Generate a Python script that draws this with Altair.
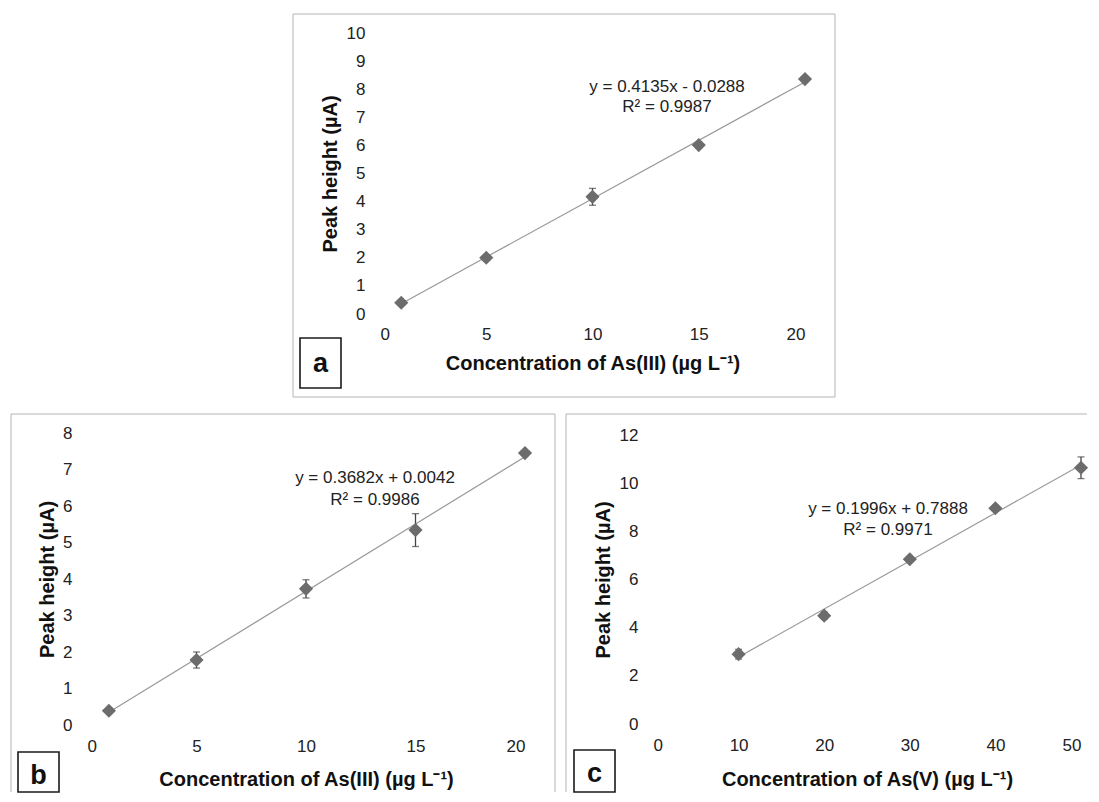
import altair as alt
import pandas as pd

FONT = "Liberation Sans"

# ---------------- data ----------------
a_x = [1, 5, 10, 15, 20]
a_y = [0.40, 2.00, 4.17, 6.01, 8.36]
a_err = [0.04, 0.10, 0.30, 0.10, 0.06]

b_x = [1, 5, 10, 15, 20]
b_y = [0.39, 1.78, 3.73, 5.34, 7.45]
b_err = [0.04, 0.22, 0.25, 0.45, 0.05]

c_x = [10, 20, 30, 40, 50]
c_y = [2.90, 4.50, 6.84, 8.96, 10.64]
c_err = [0.20, 0.15, 0.10, 0.12, 0.45]

a_xticks = [0, 5, 10, 15, 20]
a_yticks = [0, 1, 2, 3, 4, 5, 6, 7, 8, 9, 10]
b_xticks = [0, 5, 10, 15, 20]
b_yticks = [0, 1, 2, 3, 4, 5, 6, 7, 8]
c_xticks = [0, 10, 20, 30, 40, 50]
c_yticks = [0, 2, 4, 6, 8, 10, 12]

a_xtitle = "Concentration of As(III) (µg L⁻¹)"
b_xtitle = "Concentration of As(III) (µg L⁻¹)"
c_xtitle = "Concentration of As(V) (µg L⁻¹)"
ytitle = "Peak height (µA)"

a_eq = ["y = 0.4135x - 0.0288", "R² = 0.9987"]
b_eq = ["y = 0.3682x + 0.0042", "R² = 0.9986"]
c_eq = ["y = 0.1996x + 0.7888", "R² = 0.9971"]

FRAME = "#b4b4b4"


def vrule(one, x, y0, y1):
    return alt.Chart(one).mark_rule(color=FRAME, strokeWidth=1).encode(
        x=alt.value(x), y=alt.value(y0), y2=alt.value(y1))


def hrule(one, y, x0, x1):
    return alt.Chart(one).mark_rule(color=FRAME, strokeWidth=1).encode(
        y=alt.value(y), x=alt.value(x0), x2=alt.value(x1))


def panel(xs, ys, errs, xticks, yticks, xtitle, eq, letter, g):
    df = pd.DataFrame({
        "x": xs,
        "y": ys,
        "lo": [v - e for v, e in zip(ys, errs)],
        "hi": [v + e for v, e in zip(ys, errs)],
    })
    one = pd.DataFrame({"k": [0]})
    base = alt.Chart(df)
    dx = g["dx"]          # horizontal shift of the data rectangle inside the view
    pw, ph = g["PW"], g["PH"]   # data rectangle size
    y_top = g.get("dy", 0)
    xsc = alt.Scale(domain=[xticks[0], xticks[-1]], nice=False, zero=False,
                    range=[dx, dx + pw])
    ysc = alt.Scale(domain=[yticks[0], yticks[-1]], nice=False, zero=False,
                    range=[y_top + ph, y_top])
    xax = alt.Axis(values=xticks, title=xtitle, grid=False, domain=False, ticks=False,
                   tickSize=0, labelPadding=g["xlp"], labelFont=FONT, labelFontSize=17,
                   labelColor="#222222", titleFont=FONT, titleFontSize=20,
                   titleFontWeight="bold", titleColor="#111111",
                   titleX=dx + pw / 2, titleY=g["xty"], titleBaseline="middle")
    yax_kw = dict(values=yticks, title=ytitle, grid=False, domain=False, ticks=False,
                  tickSize=0, labelPadding=15, labelFont=FONT, labelFontSize=17,
                  labelColor="#222222", titleFont=FONT, titleFontSize=20,
                  titleFontWeight="bold", titleColor="#111111",
                  titleX=g["ytx"], titleY=y_top + ph / 2, titleBaseline="middle")
    if dx:
        yax_kw["offset"] = -dx
    yax = alt.Axis(**yax_kw)

    X = alt.X("x:Q", scale=xsc, axis=xax)
    Y = alt.Y("y:Q", scale=ysc, axis=yax)

    layers = []
    fx0, fx1, fy0, fy1 = [v + dx if i < 2 else v for i, v in enumerate(g["frame"])]
    sides = g["sides"]
    if "top" in sides:
        layers.append(hrule(one, fy0, fx0, fx1))
    if "bottom" in sides:
        layers.append(hrule(one, fy1, fx0, fx1))
    if "left" in sides:
        layers.append(vrule(one, fx0, fy0, fy1))
    if "right" in sides:
        layers.append(vrule(one, fx1, fy0, fy1))

    trend = base.transform_regression("x", "y").mark_line(
        color="#9a9a9a", strokeWidth=1.2).encode(x=X, y=Y)

    bars = base.mark_rule(color="#454545", strokeWidth=1.3).encode(
        x=X, y=alt.Y("lo:Q", scale=ysc, axis=yax), y2="hi:Q")
    cap_lo = base.mark_tick(orient="horizontal", size=7, thickness=1.3, color="#454545").encode(
        x=X, y=alt.Y("lo:Q", scale=ysc, axis=yax))
    cap_hi = base.mark_tick(orient="horizontal", size=7, thickness=1.3, color="#454545").encode(
        x=X, y=alt.Y("hi:Q", scale=ysc, axis=yax))

    pts = base.mark_point(shape="diamond", filled=True, size=200, opacity=1,
                          color="#6c6c6c").encode(x=X, y=Y)

    ex, ey1, ey2 = g["eq"]
    eq1 = alt.Chart(one).mark_text(text=eq[0], font=FONT, fontSize=17, color="#222222",
                                   align="center", baseline="middle").encode(
        x=alt.value(ex + dx), y=alt.value(ey1))
    eq2 = alt.Chart(one).mark_text(text=eq[1], font=FONT, fontSize=17, color="#222222",
                                   align="center", baseline="middle").encode(
        x=alt.value(ex + dx), y=alt.value(ey2))

    bx0, bx1, by0, by1 = g["box"]
    box = alt.Chart(one).mark_rect(fill="white", stroke="#1a1a1a", strokeWidth=1.6).encode(
        x=alt.value(bx0 + dx), x2=alt.value(bx1 + dx), y=alt.value(by0), y2=alt.value(by1))
    lcx, lcy = g["lab"]
    lab = alt.Chart(one).mark_text(text=letter, font=FONT, fontSize=27, fontWeight="bold",
                                   color="#111111", align="center", baseline="middle").encode(
        x=alt.value(lcx + dx), y=alt.value(lcy))

    layers += [trend, bars, cap_lo, cap_hi, pts, eq1, eq2, box, lab]
    return alt.layer(*layers).properties(width=dx + pw, height=y_top + ph)


# data rectangles in the reference: a (379..804, 32..313), b (86..524, 431..723),
# c (651..1079, 433..722); panel a sits in the same column as b, so it is shifted by 293.
ga = dict(PW=425, PH=281, dx=293, frame=(-87, 455, -19, 364),
          sides=("top", "bottom", "left", "right"),
          box=(-80, -39, 305, 355), lab=(-59.5, 331),
          ytx=-50, xty=49, xlp=12, eq=(287, 54, 74))
gb = dict(PW=438, PH=292, dx=0, frame=(-76, 468, -19, 359), sides=("top", "left", "right"),
          box=(-69, -28, 319, 359), lab=(-48.5, 343),
          ytx=-40, xty=54, xlp=13, eq=(288, 45, 67))
gc = dict(PW=428, PH=289, dx=0, dy=2, frame=(-87, 434, -19, 359), sides=("top", "left"),
          box=(-79, -38, 317, 359), lab=(-58.5, 341),
          ytx=-50, xty=55, xlp=13, eq=(235, 76, 97))

pa = panel(a_x, a_y, a_err, a_xticks, a_yticks, a_xtitle, a_eq, "a", ga)
pb = panel(b_x, b_y, b_err, b_xticks, b_yticks, b_xtitle, b_eq, "b", gb)
pc = panel(c_x, c_y, c_err, c_xticks, c_yticks, c_xtitle, c_eq, "c", gc)

chart = alt.vconcat(pa, alt.hconcat(pb, pc, spacing=9), spacing=15).properties(
    padding={"left": 2, "top": 5, "right": 0, "bottom": 0},
    background="white",
).configure_view(stroke=None)

chart.save("out.html", embed_options={"renderer": "svg", "actions": False})
